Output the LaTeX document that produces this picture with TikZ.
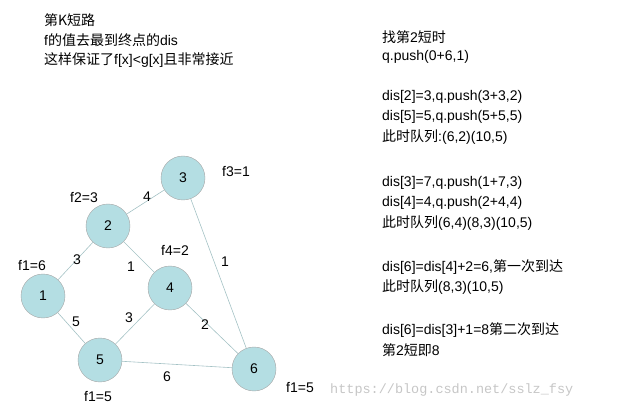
\documentclass[tikz,border=0pt]{standalone}
\usepackage{fontspec}
\setmainfont{Liberation Sans}
\setmonofont{Liberation Mono}
\newfontfamily\cjk{Noto Sans CJK SC}
\begin{document}
\begin{tikzpicture}[x=1pt,y=-1pt,
  vtx/.style={circle,draw=gray!70,fill=lb,minimum size=44pt,inner sep=0pt,font=\fontsize{14}{16}\selectfont},
  edg/.style={draw=lb!70!gray,line width=0.6pt},
  lab/.style={font=\fontsize{14}{16}\selectfont,inner sep=1pt},
  txt/.style={font=\fontsize{14}{16}\selectfont,anchor=west,inner sep=0pt}]
\definecolor{lb}{HTML}{B4DEE3}
\useasboundingbox (0,0) rectangle (627,414);
\node[vtx] (n1) at (43,296) {1};
\node[vtx] (n2) at (108,226) {2};
\node[vtx] (n3) at (183,178) {3};
\node[vtx] (n4) at (170,288) {4};
\node[vtx] (n5) at (100,360) {5};
\node[vtx] (n6) at (254,369) {6};
\draw[edg] (n2)--(n3); \draw[edg] (n1)--(n2); \draw[edg] (n2)--(n4);
\draw[edg] (n1)--(n5); \draw[edg] (n5)--(n4); \draw[edg] (n4)--(n6);
\draw[edg] (n3)--(n6); \draw[edg] (n5)--(n6);
\node[lab] (e1) at (147,197) {4};
\node[lab] (e2) at (77,260) {3};
\node[lab] (e3) at (131,267) {1};
\node[lab] (e4) at (76,322) {5};
\node[lab] (e5) at (129,318) {3};
\node[lab] (e6) at (205,325) {2};
\node[lab] (e7) at (225,262) {1};
\node[lab] (e8) at (167,377) {6};
\node[lab] (f2) at (84,198) {f2=3};
\node[lab] (f3) at (236,172) {f3=1};
\node[lab] (f1) at (32,266) {f1=6};
\node[lab] (f4) at (175,250) {f4=2};
\node[lab] (f5) at (98,397) {f1=5};
\node[lab] (f6) at (300,388) {f1=5};
\node[txt,text=gray!45,font=\ttfamily\fontsize{13.5}{15}\selectfont] (wm) at (330,390) {https://blog.csdn.net/sslz\_fsy};
\node[txt] (t1) at (44,20) {\cjk 第K短路};
\node[txt] (t2) at (44,40) {f\cjk 的值去最到终点的\rmfamily dis};
\node[txt] (t3) at (44,60) {\cjk 这样保证了\rmfamily f[x]<g[x]\cjk 且非常接近};
\node[txt] (r1) at (382,37) {\cjk 找第\rmfamily 2\cjk 短时};
\node[txt] (r2) at (382,57) {q.push(0+6,1)};
\node[txt] (r3) at (382,97) {dis[2]=3,q.push(3+3,2)};
\node[txt] (r4) at (382,117) {dis[5]=5,q.push(5+5,5)};
\node[txt] (r5) at (382,137) {\cjk 此时队列\rmfamily :(6,2)(10,5)};
\node[txt] (r6) at (382,183) {dis[3]=7,q.push(1+7,3)};
\node[txt] (r7) at (382,203) {dis[4]=4,q.push(2+4,4)};
\node[txt] (r8) at (382,223) {\cjk 此时队列\rmfamily (6,4)(8,3)(10,5)};
\node[txt] (r9) at (382,267) {dis[6]=dis[4]+2=6,\cjk 第一次到达};
\node[txt] (r10) at (382,287) {\cjk 此时队列\rmfamily (8,3)(10,5)};
\node[txt] (r11) at (382,330) {dis[6]=dis[3]+1=8\cjk 第二次到达};
\node[txt] (r12) at (382,350) {\cjk 第\rmfamily 2\cjk 短即\rmfamily 8};
\end{tikzpicture}
\end{document}
